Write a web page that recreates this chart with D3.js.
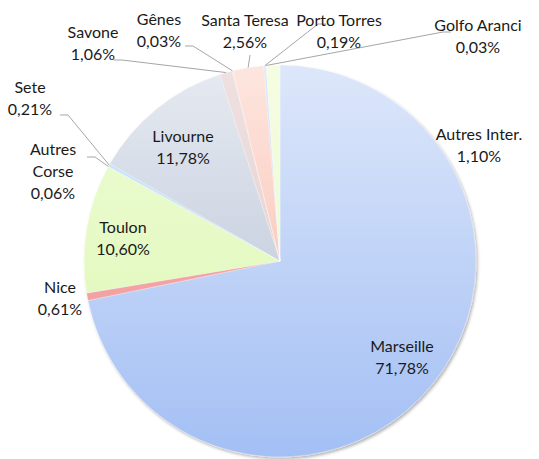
<!DOCTYPE html>
<html lang="fr">
<head>
<meta charset="utf-8">
<title>Ports</title>
<script src="https://cdn.jsdelivr.net/npm/d3@7"></script>
<style>
  body { margin: 0; background: #fff; }
  text { font-family: Lato, "Open Sans", sans-serif; font-size: 16px; fill: #1a1a1a; }
</style>
</head>
<body>
<script>
const ports = ["Marseille", "Nice", "Toulon", "Autres Corse", "Sete", "Livourne", "Savone", "Gênes", "Santa Teresa", "Porto Torres", "Golfo Aranci", "Autres Inter."]
const shares = [71.78, 0.61, 10.60, 0.06, 0.21, 11.78, 1.06, 0.03, 2.56, 0.19, 0.03, 1.10]
const colorsTop = ["#dde7fa", "#f7b0b0", "#eefcd6", "#d8ecfa", "#cfe8f8", "#e6eaf1", "#efe1e1", "#f3dede", "#fde6df", "#dcebfa", "#eef6e6", "#f5fde2"]
const colorsBottom = ["#a3bff4", "#f09898", "#dcf7b2", "#b9dcf4", "#a9d6f1", "#b1bdd2", "#e2c6c6", "#e6c6c6", "#f9b2a2", "#b9d5f3", "#dcecd0", "#e6f9c2"]

// label layout: [x center, baseline of first line, elbow x (null = no leader), elbow y]
const labelPos = {
  "Marseille": [402, 352, null, null],
  "Nice": [60, 293, null, null],
  "Toulon": [123, 233, null, null],
  "Autres Corse": [53, 155, 95, 157],
  "Sete": [30, 93, 68, 115],
  "Livourne": [183, 142, null, null],
  "Savone": [93, 38, 122, 60],
  "Gênes": [159, 25, 193, 46],
  "Santa Teresa": [245, 26, 250, 55],
  "Porto Torres": [339, 26, 318, 24],
  "Golfo Aranci": [478, 31, 443, 32],
  "Autres Inter.": [479, 140, null, null]
}

const w = 539, h = 459
const cx = 280, cy = 261, r = 196
const lineGap = 22

let svg = d3.select("body").append("svg").attr("width", w).attr("height", h)
let defs = svg.append("defs")

let shadow = defs.append("filter").attr("id", "shadow")
    .attr("x", "-10%").attr("y", "-10%").attr("width", "120%").attr("height", "120%")
shadow.append("feDropShadow").attr("dx", 1.5).attr("dy", 2).attr("stdDeviation", 1.8)
    .attr("flood-color", "#000").attr("flood-opacity", 0.3)

ports.forEach((p, i) => {
  let g = defs.append("linearGradient").attr("id", "grad" + i)
      .attr("gradientUnits", "userSpaceOnUse")
      .attr("x1", 0).attr("y1", -r).attr("x2", 0).attr("y2", r)
  g.append("stop").attr("offset", "0%").attr("stop-color", colorsTop[i])
  g.append("stop").attr("offset", "100%").attr("stop-color", colorsBottom[i])
})

let data = ports.map((p, i) => ({port: p, value: shares[i], idx: i}))
let pie = d3.pie().sort(null).value(d => d.value)
let arcs = pie(data)
let arc = d3.arc().innerRadius(0).outerRadius(r)

let g = svg.append("g").attr("transform", `translate(${cx},${cy})`)
g.append("g").attr("filter", "url(#shadow)")
  .selectAll("path")
  .data(arcs)
  .enter()
  .append("path")
    .attr("d", arc)
    .attr("fill", d => `url(#grad${d.data.idx})`)
    .attr("stroke", "#ffffff")
    .attr("stroke-opacity", 0.5)
    .attr("stroke-width", 0.6)

function fmt(v) {
  return v.toFixed(2).replace(".", ",") + "%"
}

// leader lines
arcs.forEach(d => {
  let lp = labelPos[d.data.port]
  if (lp[2] === null) return
  let a = (d.startAngle + d.endAngle) / 2
  let px = cx + r * Math.sin(a), py = cy - r * Math.cos(a)
  let ex = lp[2], ey = lp[3]
  let pts
  if (d.data.port === "Santa Teresa") {
    pts = [[ex, ey], [px, py]]
  } else {
    let dir = ex < lp[0] ? 1 : -1
    pts = [[ex + dir * 8, ey], [ex, ey], [px, py]]
  }
  svg.append("path")
    .attr("d", d3.line()(pts))
    .attr("fill", "none")
    .attr("stroke", "#a6a6a6")
    .attr("stroke-width", 1)
})

// labels
arcs.forEach(d => {
  let lp = labelPos[d.data.port]
  let lines = d.data.port === "Autres Corse" ? ["Autres", "Corse"] : [d.data.port]
  lines.push(fmt(d.data.value))
  let t = svg.append("text").attr("text-anchor", "middle")
  lines.forEach((s, k) => {
    t.append("tspan").attr("x", lp[0]).attr("y", lp[1] + k * lineGap).text(s)
  })
})
</script>
</body>
</html>
